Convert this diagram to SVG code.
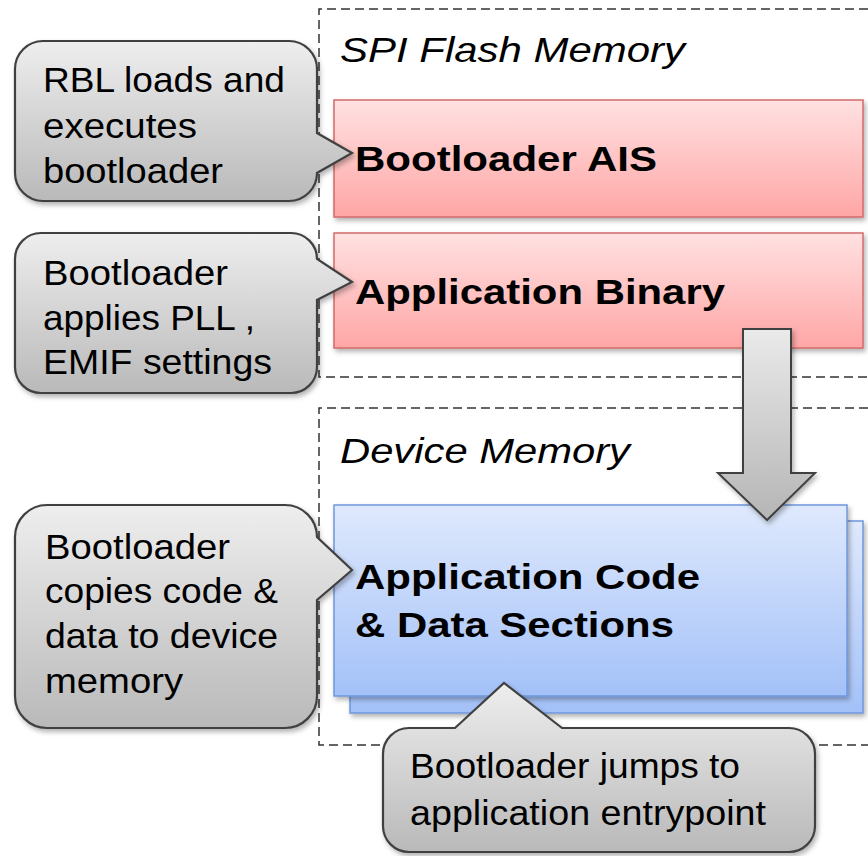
<svg xmlns="http://www.w3.org/2000/svg" width="868" height="856" viewBox="0 0 868 856">
<defs>
<linearGradient id="gGray" x1="0" y1="0" x2="0" y2="1"><stop offset="0" stop-color="#eeeeee"/><stop offset="1" stop-color="#b9b9b9"/></linearGradient>
<linearGradient id="gPink" x1="0" y1="0" x2="0" y2="1"><stop offset="0" stop-color="#ffe1e1"/><stop offset="1" stop-color="#ffa6a6"/></linearGradient>
<linearGradient id="gBlue" x1="0" y1="0" x2="0" y2="1"><stop offset="0" stop-color="#dfe9fd"/><stop offset="1" stop-color="#a3c1f8"/></linearGradient>
<linearGradient id="gArrow" x1="0" y1="0" x2="0" y2="1"><stop offset="0" stop-color="#eaeaea"/><stop offset="1" stop-color="#b5b5b5"/></linearGradient>
<filter id="sh" x="-10%" y="-10%" width="130%" height="130%"><feDropShadow dx="2" dy="3" stdDeviation="2.5" flood-color="#000" flood-opacity="0.3"/></filter>
</defs>
<style>
.dash{fill:none;stroke:#333;stroke-width:1.5;stroke-dasharray:9 5}
.call{fill:url(#gGray);stroke:#404040;stroke-width:2.2;filter:url(#sh)}
.pink{fill:url(#gPink);stroke:#d46a6a;stroke-width:1.5;filter:url(#sh)}
.blue{fill:url(#gBlue);stroke:#6f97dc;stroke-width:1.5;filter:url(#sh)}
.t{font-family:"Liberation Sans",Arial,sans-serif;font-size:35px;fill:#000}
.b{font-family:"Liberation Sans",Arial,sans-serif;font-size:35px;font-weight:bold;fill:#000}
.i{font-family:"Liberation Sans",Arial,sans-serif;font-size:35px;font-style:italic;fill:#000}
</style>
<g id="spi-flash-memory">
<path class="dash" d="M868,9 H319 V377 H868"/>
<text class="i" x="340" y="62" textLength="345" lengthAdjust="spacingAndGlyphs">SPI Flash Memory</text>
</g>
<g id="device-memory">
<path class="dash" d="M868,408 H319 V745 H868"/>
<text class="i" x="340" y="463" textLength="290" lengthAdjust="spacingAndGlyphs">Device Memory</text>
</g>
<g id="bootloader-ais">
<rect class="pink" x="334" y="100" width="529" height="117"/>
<text class="b" x="355" y="171" textLength="302" lengthAdjust="spacingAndGlyphs">Bootloader AIS</text>
</g>
<g id="application-binary">
<rect class="pink" x="334" y="233" width="529" height="115"/>
<text class="b" x="355" y="304" textLength="370" lengthAdjust="spacingAndGlyphs">Application Binary</text>
</g>
<g id="application-code">
<rect class="blue" x="350" y="521" width="513" height="192"/>
<rect class="blue" x="334" y="505" width="513" height="191"/>
<text class="b" x="355" y="589" textLength="345" lengthAdjust="spacingAndGlyphs">Application Code</text>
<text class="b" x="355" y="637" textLength="319" lengthAdjust="spacingAndGlyphs">&amp; Data Sections</text>
</g>
<g id="connectors">
<path d="M743,329 H791 V473 H815 L767,520 L718,473 H743 Z" fill="url(#gArrow)" stroke="#404040" stroke-width="2" filter="url(#sh)"/>
</g>
<g id="callout-rbl">
<path class="call" d="M43,41 H289 A28 28 0 0 1 317,69 V133 L352,153 L317,173 A28 28 0 0 1 289,201 H43 A28 28 0 0 1 15,173 V69 A28 28 0 0 1 43,41 Z"/>
<text class="t" x="43" y="92" textLength="242" lengthAdjust="spacingAndGlyphs">RBL loads and</text>
<text class="t" x="43" y="138" textLength="154" lengthAdjust="spacingAndGlyphs">executes</text>
<text class="t" x="43" y="183" textLength="180" lengthAdjust="spacingAndGlyphs">bootloader</text>
</g>
<g id="callout-pll">
<path class="call" d="M41,233 H291 A26 26 0 0 1 317,259 L352,282 L317,300 V367 A26 26 0 0 1 291,393 H41 A26 26 0 0 1 15,367 V259 A26 26 0 0 1 41,233 Z"/>
<text class="t" x="43" y="285" textLength="185" lengthAdjust="spacingAndGlyphs">Bootloader</text>
<text class="t" x="43" y="330" textLength="212" lengthAdjust="spacingAndGlyphs">applies PLL ,</text>
<text class="t" x="43" y="374" textLength="229" lengthAdjust="spacingAndGlyphs">EMIF settings</text>
</g>
<g id="callout-copy">
<path class="call" d="M47,505 H285 A32 32 0 0 1 317,537 L352,570 L317,600 V696 A32 32 0 0 1 285,728 H47 A32 32 0 0 1 15,696 V537 A32 32 0 0 1 47,505 Z"/>
<text class="t" x="45" y="559" textLength="185" lengthAdjust="spacingAndGlyphs">Bootloader</text>
<text class="t" x="45" y="603" textLength="233" lengthAdjust="spacingAndGlyphs">copies code &amp;</text>
<text class="t" x="45" y="648" textLength="233" lengthAdjust="spacingAndGlyphs">data to device</text>
<text class="t" x="45" y="693" textLength="138" lengthAdjust="spacingAndGlyphs">memory</text>
</g>
<g id="callout-jump">
<path class="call" d="M409,728 H455 L504,683 L562,728 H789 A26 26 0 0 1 815,754 V826 A26 26 0 0 1 789,852 H409 A26 26 0 0 1 383,826 V754 A26 26 0 0 1 409,728 Z"/>
<text class="t" x="410" y="778" textLength="330" lengthAdjust="spacingAndGlyphs">Bootloader jumps to</text>
<text class="t" x="410" y="825" textLength="356" lengthAdjust="spacingAndGlyphs">application entrypoint</text>
</g>
</svg>
